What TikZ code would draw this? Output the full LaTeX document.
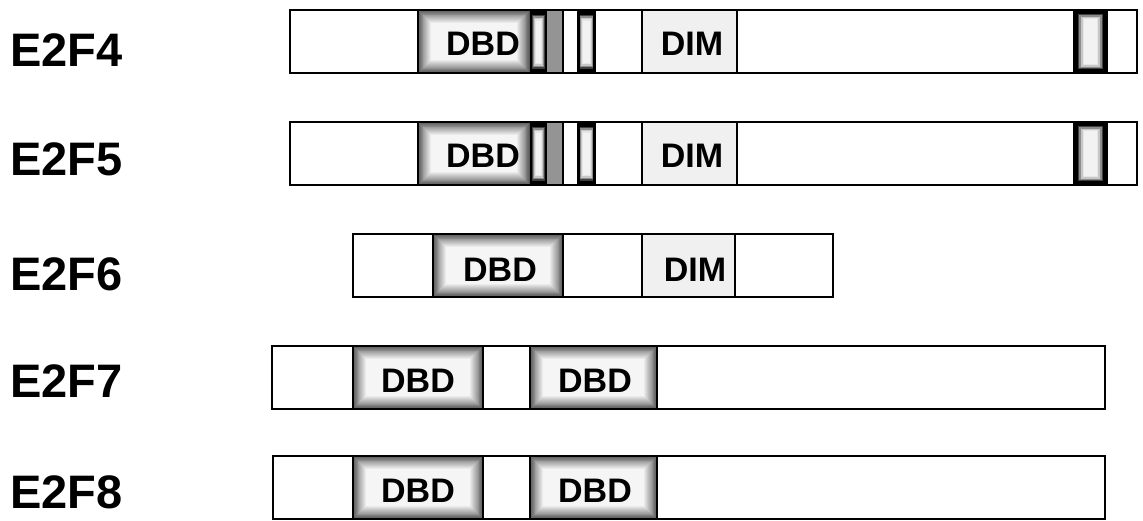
\documentclass[tikz,border=0pt]{standalone}
\usepackage{fontspec}
\setmainfont{Liberation Sans}
\usetikzlibrary{calc}
\begin{document}
\begin{tikzpicture}
  [x=1pt,y=-1pt,
   bar/.style={draw=black,line width=2.8pt},
   protname/.style={font=\fontsize{47}{47}\selectfont\bfseries,anchor=west,inner sep=0pt},
   domtext/.style={font=\fontsize{34}{34}\selectfont\bfseries,inner sep=0pt},
   dbd/.style={path picture={
     \foreach \k [evaluate=\k as \c using 64-4.3*\k] in {0,...,14}
       \fill[black!\c] ($(path picture bounding box.south west)+({0.9pt*\k},{0.9pt*\k})$)
         rectangle ($(path picture bounding box.north east)-({0.9pt*\k},{0.9pt*\k})$);}},
   band/.style 2 args={path picture={
     \foreach \k/\c in {0/100,1/100,2/100,3/75,4/45,5/22,6/10,7/5}
       \fill[black!\c] ($(path picture bounding box.south west)+({#1*\k},{#2*\k})$)
         rectangle ($(path picture bounding box.north east)-({#1*\k},{#2*\k})$);}},
   dim/.style={fill=black!6},
   stip/.style={fill=black!42}]
  \useasboundingbox (0,0) rectangle (1143,520);

  % protein names
  \foreach \n/\y in {4/50,5/159,6/274,7/381,8/492}
    \node[protname] (e2f\n) at (10,\y) {E2F\n};

  % E2F4 and E2F5
  \foreach \n/\y in {4/10,5/122} {
    \path[dbd] (418,\y) rectangle (530,\y+63);
    \path[band={0.8pt}{1.5pt}] (530,\y) rectangle (547,\y+63);
    \path[stip] (547,\y) rectangle (563,\y+63);
    \path[band={0.85pt}{1.5pt}] (577,\y) rectangle (596,\y+63);
    \path[dim] (642,\y) rectangle (737,\y+63);
    \path[band={1.6pt}{1.3pt}] (1073,\y) rectangle (1108,\y+63);
    \draw[bar] (290,\y) rectangle (1137,\y+63);
    \foreach \x in {418,563,642,737}
      \draw[bar] (\x,\y) -- (\x,\y+63);
    \node[domtext] (dbd\n) at (483,\y+34) {DBD};
    \node[domtext] (dim\n) at (692,\y+34) {DIM};
  }

  % E2F6
  \path[dbd] (433,234) rectangle (563,297);
  \path[dim] (642,234) rectangle (735,297);
  \draw[bar] (353,234) rectangle (833,297);
  \foreach \x in {433,563,642,735}
    \draw[bar] (\x,234) -- (\x,297);
  \node[domtext] (dbd6) at (500,270) {DBD};
  \node[domtext] (dim6) at (695,270) {DIM};

  % E2F7 and E2F8
  \foreach \n/\y/\l in {7/346/272,8/456/273} {
    \path[dbd] (353,\y) rectangle (483,\y+63);
    \path[dbd] (530,\y) rectangle (657,\y+63);
    \draw[bar] (\l,\y) rectangle (1105,\y+63);
    \foreach \x in {353,483,530,657}
      \draw[bar] (\x,\y) -- (\x,\y+63);
    \node[domtext] (dbd\n a) at (418,\y+35) {DBD};
    \node[domtext] (dbd\n b) at (595,\y+35) {DBD};
  }
\end{tikzpicture}
\end{document}
